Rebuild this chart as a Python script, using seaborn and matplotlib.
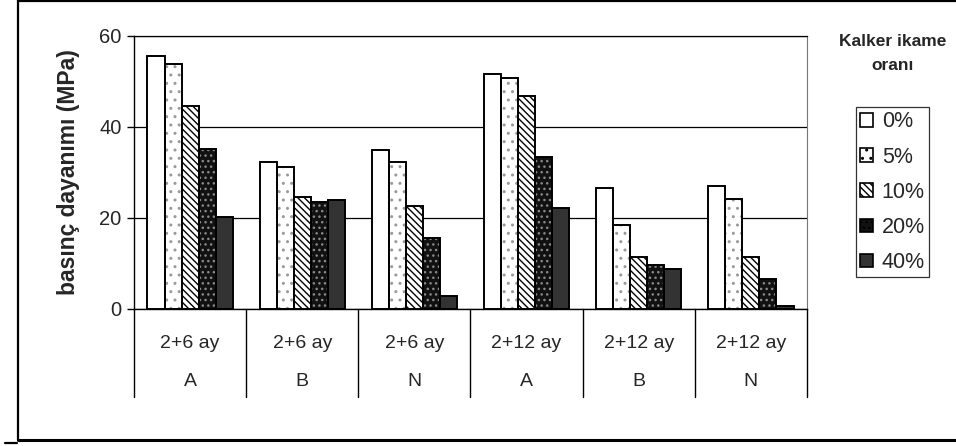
import matplotlib
matplotlib.use("Agg")
import matplotlib.pyplot as plt
import matplotlib.transforms as mtransforms
from matplotlib.patches import Patch, Rectangle
from matplotlib.lines import Line2D
import pandas as pd
import seaborn as sns

# --- data -------------------------------------------------------------
periods = ["2+6 ay", "2+6 ay", "2+6 ay", "2+12 ay", "2+12 ay", "2+12 ay"]
materials = ["A", "B", "N", "A", "B", "N"]
ratios = ["0%", "5%", "10%", "20%", "40%"]

strength_0 = [55.7, 32.3, 35.0, 51.6, 26.6, 27.1]
strength_5 = [53.8, 31.2, 32.4, 50.7, 18.5, 24.2]
strength_10 = [44.6, 24.7, 22.6, 46.8, 11.5, 11.5]
strength_20 = [35.1, 23.6, 15.6, 33.3, 9.7, 6.6]
strength_40 = [20.3, 24.0, 2.9, 22.1, 8.7, 0.6]

y_ticks = [0, 20, 40, 60]

# --- long-form table --------------------------------------------------
groups = [f"{p}\n{m}" for p, m in zip(periods, materials)]
series = [strength_0, strength_5, strength_10, strength_20, strength_40]
rows = []
for ratio, vals in zip(ratios, series):
    for g, v in zip(groups, vals):
        rows.append({"grup": g, "oran": ratio, "dayanim": v})
df = pd.DataFrame(rows)

# face colour, hatch pattern, hatch colour per replacement ratio
styles = {
    "0%": ("white", "", "black"),
    "5%": ("white", "..", "#9a9a9a"),
    "10%": ("white", "\\\\\\\\\\", "black"),
    "20%": ("#111111", "...", "#8a8a8a"),
    "40%": ("#333333", "", "#333333"),
}

sns.set_style("white")
plt.rcParams["font.family"] = ["Liberation Sans", "DejaVu Sans"]
plt.rcParams["hatch.linewidth"] = 1.0

fig = plt.figure(figsize=(9.56, 4.46), dpi=100)
ax = fig.add_axes([0.1402, 0.3072, 0.7039, 0.6121])

sns.barplot(data=df, x="grup", y="dayanim", hue="oran", order=groups,
            hue_order=ratios, width=0.76, legend=False, ax=ax,
            errorbar=None, saturation=1)

for ratio, cont in zip(ratios, ax.containers):
    face, hatch, hcol = styles[ratio]
    for bar in cont:
        bar.set_facecolor(face)
        bar.set_hatch(hatch)
        bar.set_edgecolor(hcol)
        bar.set_linewidth(0)
        bar.set_zorder(3)
        ax.add_patch(Rectangle(bar.get_xy(), bar.get_width(), bar.get_height(),
                               fill=False, edgecolor="black", linewidth=1.4,
                               zorder=4))

# --- axes styling -----------------------------------------------------
ax.set_ylim(0, 60)
ax.set_yticks(y_ticks)
ax.set_yticklabels([str(t) for t in y_ticks], fontsize=14.5)
ax.set_xlim(-0.5, len(groups) - 0.5)
ax.yaxis.grid(True, color="black", linewidth=0.9, zorder=0)
ax.set_axisbelow(True)
ax.tick_params(axis="y", direction="out", length=5, width=1, color="black",
               left=True, pad=4)
ax.tick_params(axis="x", length=0, pad=19)
ax.set_xticks(range(len(groups)))
ax.set_xticklabels(groups, fontsize=14, linespacing=2.6)
ax.set_xlabel("")
ax.set_ylabel("basınç dayanımı (MPa)", fontsize=16.5, fontweight="bold",
              labelpad=14)
for side in ["left", "bottom"]:
    ax.spines[side].set_color("black")
    ax.spines[side].set_linewidth(1.0)
ax.spines["right"].set_color("#777777")
ax.spines["top"].set_color("black")
ax.spines["top"].set_linewidth(0.9)

# separators between the two-row category labels
trans = mtransforms.blended_transform_factory(ax.transData, ax.transAxes)
for b in range(len(groups) + 1):
    ax.add_line(Line2D([b - 0.5, b - 0.5], [0, -0.322], transform=trans,
                       color="black", linewidth=1.0, clip_on=False))

# --- legend -----------------------------------------------------------
handles = []
for ratio in ratios:
    face, hatch, hcol = styles[ratio]
    handles.append(Patch(facecolor=face, hatch=hatch, edgecolor="black",
                         linewidth=1.2, label=ratio))
leg = fig.legend(handles=handles, loc="upper left",
                 bbox_to_anchor=(856 / 956, 1 - 107 / 446),
                 fontsize=15.5, frameon=True, fancybox=False,
                 handlelength=0.6, handleheight=0.6, handletextpad=0.4,
                 labelspacing=0.66, borderpad=0.2, borderaxespad=0)
leg.get_frame().set_edgecolor("black")
leg.get_frame().set_linewidth(0.9)
fig.text(893 / 956, 1 - 54 / 446, "Kalker ikame\noranı", ha="center",
         va="center", fontsize=12.5, fontweight="bold", linespacing=1.75)

# outer frame
fig.add_artist(Line2D([18 / 956, 1], [1 - 1 / 446, 1 - 1 / 446],
                      transform=fig.transFigure, color="black", linewidth=1.6))
fig.add_artist(Line2D([18 / 956, 18 / 956], [1, 1 - 440 / 446],
                      transform=fig.transFigure, color="black", linewidth=1.6))
fig.add_artist(Line2D([18 / 956, 1], [1 - 440 / 446, 1 - 440 / 446],
                      transform=fig.transFigure, color="black", linewidth=2.2))
fig.add_artist(Line2D([5 / 956, 17 / 956], [1 - 443 / 446, 1 - 443 / 446],
                      transform=fig.transFigure, color="black", linewidth=1.6))

fig.savefig("out.png", dpi=100, facecolor="white")
